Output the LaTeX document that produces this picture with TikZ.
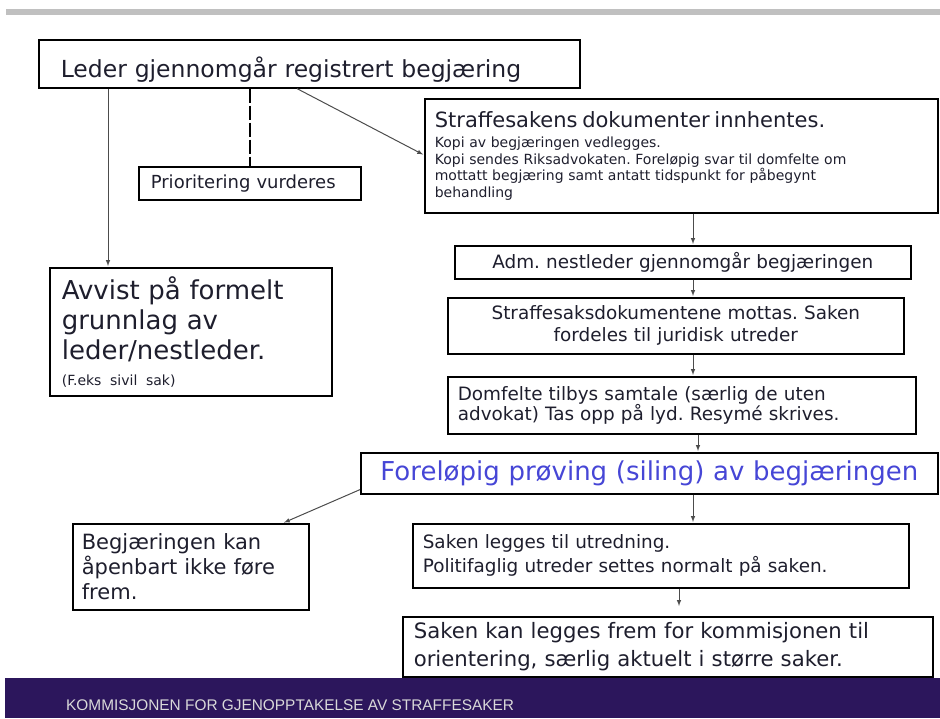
\documentclass[tikz,border=0pt]{standalone}
\usepackage{fontspec}
\setmainfont{DejaVu Sans}
\newfontfamily\footfont{Liberation Sans}
\usepackage{tikz}
\usetikzlibrary{shapes}
\usepgflibrary{arrows}
\definecolor{topgray}{RGB}{192,192,192}
\definecolor{footpurple}{RGB}{44,22,92}
\definecolor{silingblue}{RGB}{70,70,214}
\definecolor{boxtext}{RGB}{30,30,45}
\newcommand{\fsz}[2]{\fontsize{#1}{#2}\selectfont}
\frenchspacing

\begin{document}
\begin{tikzpicture}[x=1pt,y=-1pt,shorten >=1pt,->,draw=black!50]
		\tikzstyle{flowbox}=[draw=black, line width=1.6pt, anchor=north west, inner ysep=0pt, text=boxtext, align=left]
		\tikzstyle{link}=[line width=1pt, color=black!70]
		\tikzstyle{dashlink}=[-, shorten >=0pt, line width=1.6pt, color=black, dash pattern=on 14pt off 3pt]
		\tikzset{>=latex}
		\useasboundingbox (0,0) rectangle (940,718);
		% bars at top and bottom
		\fill[topgray] (6,9) rectangle (940,15);
		\fill[footpurple] (5,678) rectangle (940,718);
		\node[anchor=west, inner sep=0pt, text=white!85!black, font=\footfont\fsz{15.4}{18}] (footlabel) at (66,705) {KOMMISJONEN FOR GJENOPPTAKELSE AV STRAFFESAKER};
		% boxes
		\node[flowbox, minimum height=48pt, text width=497pt, inner xsep=22pt, text height=28pt, text depth=0pt, font=\fsz{23.5}{28}] (lederbox) at (38,39) {Leder gjennomgår registrert begjæring};
		\node[flowbox, minimum height=33pt, text width=198pt, inner xsep=12pt, font=\fsz{18}{22}] (prio) at (138,166) {Prioritering vurderes};
		\node[flowbox, minimum height=114pt, text width=493pt, inner xsep=10pt, font=\fsz{14}{16.5}] (innhent) at (424,98) {{\fsz{21}{25}Straffesakens dokumenter innhentes.}\\[4pt]
			Kopi av begjæringen vedlegges.\\
			Kopi sendes Riksadvokaten. Foreløpig svar til domfelte om\\
			mottatt begjæring samt antatt tidspunkt for påbegynt\\
			behandling};
		\node[flowbox, minimum height=128pt, text width=258pt, inner xsep=12pt, font=\fsz{26}{30}] (avvist) at (49,267) {Avvist på formelt\\ grunnlag av\\ leder/nestleder.\\[-4pt] {\fsz{14}{16}(F.eks sivil sak)}};
		\node[flowbox, align=center, minimum height=33pt, text width=436pt, inner xsep=10pt, font=\fsz{18.4}{22}] (adm) at (454,245) {Adm. nestleder gjennomgår begjæringen};
		\node[flowbox, align=center, minimum height=56pt, text width=436pt, inner xsep=10pt, font=\fsz{18.4}{22}] (mottas) at (447,297) {Straffesaksdokumentene mottas. Saken\\ fordeles til juridisk utreder};
		\node[flowbox, minimum height=57pt, text width=448pt, inner xsep=10pt, font=\fsz{18.4}{20}] (domfelte) at (447,376) {Domfelte tilbys samtale (særlig de uten\\ advokat) Tas opp på lyd. Resymé skrives.};
		\node[flowbox, align=center, minimum height=41pt, text width=557pt, inner xsep=10pt, text=silingblue, font=\fsz{26}{30}] (siling) at (360,452) {Foreløpig prøving (siling) av begjæringen};
		\node[flowbox, minimum height=86pt, text width=218pt, inner xsep=9pt, font=\fsz{21}{25}] (apenbart) at (72,523) {Begjæringen kan\\ åpenbart ikke føre\\ frem.};
		\node[flowbox, minimum height=64pt, text width=476pt, inner xsep=10pt, font=\fsz{18.4}{24}] (utredning) at (412,523) {Saken legges til utredning.\\ Politifaglig utreder settes normalt på saken.};
		\node[flowbox, minimum height=60pt, text width=508pt, inner xsep=11pt, font=\fsz{21.2}{28}] (kommisjon) at (402,616) {Saken kan legges frem for kommisjonen til\\ orientering, særlig aktuelt i større saker.};
		% connectors
		\path ([xshift=70pt]lederbox.south west) edge[link] ([xshift=59pt]avvist.north west);
		\path (prio.north |- lederbox.south) edge[dashlink] (prio.north);
		\path ([xshift=259pt]lederbox.south west) edge[link] ([yshift=-57pt]innhent.north west);
		\path ([xshift=269pt]innhent.south west) edge[link] ([xshift=239pt]adm.north west);
		\path ([xshift=239pt]adm.south west) edge[link] ([xshift=246pt]mottas.north west);
		\path ([xshift=246pt]mottas.south west) edge[link] ([xshift=246pt]domfelte.north west);
		\path ([xshift=251pt]domfelte.south west) edge[link] ([xshift=338pt]siling.north west);
		\path ([yshift=5pt]siling.south west) edge[link] ([xshift=211pt]apenbart.north west);
		\path ([xshift=333pt]siling.south west) edge[link] ([xshift=281pt]utredning.north west);
		\path ([xshift=267pt]utredning.south west) edge[link, shorten >=10pt] ([xshift=277pt]kommisjon.north west);
	\end{tikzpicture}
\end{document}
